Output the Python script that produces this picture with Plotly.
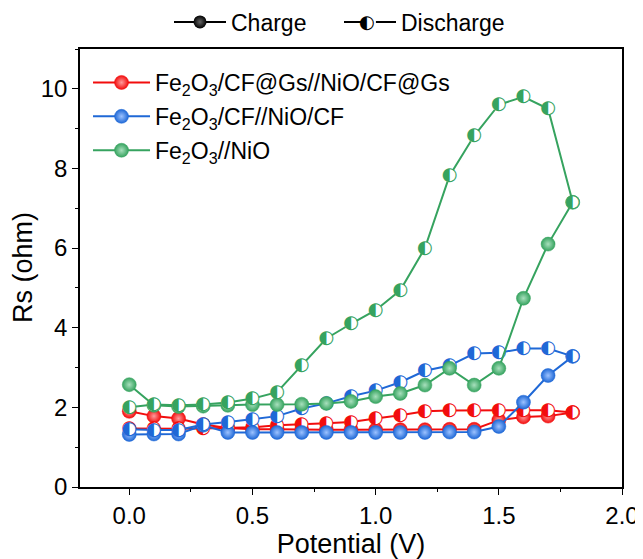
import plotly.graph_objects as go

# ---------------- data ----------------
potential = [0.0, 0.1, 0.2, 0.3, 0.4, 0.5, 0.6, 0.7, 0.8, 0.9,
             1.0, 1.1, 1.2, 1.3, 1.4, 1.5, 1.6, 1.7, 1.8]
potential_back = potential[::-1]  # discharge runs 1.8 -> 0.0

red_charge = [1.90, 1.78, 1.72, 1.57, 1.48, 1.45, 1.45, 1.44, 1.44, 1.44,
              1.44, 1.44, 1.44, 1.45, 1.45, 1.68, 1.76, 1.78, 1.87]
red_discharge = [1.87, 1.93, 1.93, 1.93, 1.93, 1.92, 1.90, 1.80, 1.72, 1.63,
                 1.60, 1.58, 1.55, 1.50, 1.48, 1.47, 1.46, 1.46, 1.47]

blue_charge = [1.32, 1.33, 1.33, 1.55, 1.37, 1.37, 1.37, 1.37, 1.37, 1.37,
               1.37, 1.37, 1.37, 1.38, 1.38, 1.52, 2.13, 2.80, 3.28]
blue_discharge = [3.28, 3.48, 3.48, 3.37, 3.35, 3.05, 2.92, 2.63, 2.42, 2.28,
                  2.10, 1.97, 1.78, 1.70, 1.63, 1.57, 1.43, 1.43, 1.45]

green_charge = [2.57, 2.05, 2.02, 2.03, 2.05, 2.07, 2.07, 2.08, 2.10, 2.15,
                2.27, 2.35, 2.56, 2.98, 2.56, 2.98, 4.74, 6.10, 7.15]
green_discharge = [7.15, 9.50, 9.80, 9.60, 8.82, 7.82, 6.00, 4.94, 4.44, 4.10,
                   3.73, 3.06, 2.38, 2.22, 2.12, 2.07, 2.05, 2.07, 2.00]

series_names = ["Fe<sub>2</sub>O<sub>3</sub>/CF@Gs//NiO/CF@Gs",
                "Fe<sub>2</sub>O<sub>3</sub>/CF//NiO/CF",
                "Fe<sub>2</sub>O<sub>3</sub>//NiO"]
series_colors = ["#f20d0d", "#1f68d6", "#36a35f"]
series_light = ["#ff9c9c", "#9cc2ff", "#a8e0bd"]
charge_data = [red_charge, blue_charge, green_charge]
discharge_data = [red_discharge, blue_discharge, green_discharge]

x_ticks = [0.0, 0.5, 1.0, 1.5, 2.0]
y_ticks = [0, 2, 4, 6, 8, 10]

HALF = "\u25D0"
FONT = "Liberation Sans, Arial, sans-serif"

# the page body has an 8 px default margin, so the figure is 8 px smaller
W, H = 635, 551
ML, MR, MT, MB = 72, 21, 41, 72

fig = go.Figure()

for i, (name, col, light, ch, dis) in enumerate(
        zip(series_names, series_colors, series_light, charge_data, discharge_data)):
    # charge: filled balls
    fig.add_trace(go.Scatter(
        x=potential, y=ch, mode="lines+markers", name=name,
        legend="legend2", legendgroup=f"g{i}",
        line=dict(color=col, width=2),
        marker=dict(symbol="circle", size=14, color=col,
                    gradient=dict(type="radial", color=light),
                    line=dict(color=col, width=0.5)),
    ))
    # discharge: half-filled circles
    fig.add_trace(go.Scatter(
        x=potential_back, y=dis, mode="lines+markers+text", showlegend=False,
        text=[HALF] * len(dis), textposition="middle center",
        textfont=dict(family="DejaVu Sans", size=18, color=col),
        line=dict(color=col, width=2),
        marker=dict(symbol="circle", size=13, color="white",
                    line=dict(color=col, width=0)),
        hoverinfo="x+y",
    ))

# top legend entries (legend-only traces)
fig.add_trace(go.Scatter(
    x=[None], y=[None], mode="lines+markers", name="Charge",
    legend="legend", line=dict(color="black", width=2),
    marker=dict(symbol="circle", size=13, color="black",
                gradient=dict(type="radial", color="#666666")),
))
fig.add_trace(go.Scatter(
    x=[None], y=[None], mode="lines+markers", name="Discharge",
    legend="legend3", line=dict(color="black", width=2),
    marker=dict(symbol="circle", size=12, color="white",
                line=dict(color="white", width=0)),
))

# top legend positions (pixels within the figure)
charge_leg_x = 161
discharge_leg_x = 331
leg_center_y = 14
icon_offset = 28  # legend symbol centre relative to legend left edge
ytitle_center_x = 15  # y-axis title centre (pixels within the figure)

axis_common = dict(
    showline=True, linecolor="black", linewidth=1.5, mirror=True,
    ticks="outside", ticklen=6, tickwidth=1.2, tickcolor="black",
    showgrid=False, zeroline=False, automargin=False,
    tickfont=dict(family=FONT, size=24, color="black"),
)

fig.update_xaxes(
    range=[-0.2, 2.0], tickvals=x_ticks, ticktext=[f"{v:.1f}" for v in x_ticks],
    minor=dict(dtick=0.25, ticks="outside", ticklen=3, tickcolor="black", tickwidth=1),
    title=dict(text="Potential (V)", font=dict(family=FONT, size=27, color="black"),
               standoff=0),
    **axis_common,
)
fig.update_yaxes(
    range=[0, 11], tickvals=y_ticks, ticktext=[str(v) for v in y_ticks],
    minor=dict(dtick=1, ticks="outside", ticklen=3, tickcolor="black", tickwidth=1),
    **axis_common,
)

leg_font = dict(family=FONT, size=23, color="black")
pw = W - ML - MR
ph = H - MT - MB

# y-axis title as a rotated annotation
fig.add_annotation(
    text="Rs (ohm)", showarrow=False, xref="paper", yref="paper",
    x=(ytitle_center_x - ML) / pw, y=0.5, textangle=-90,
    xanchor="center", yanchor="middle",
    font=dict(family=FONT, size=27, color="black"),
)

# half-filled glyph on top of the Discharge legend symbol
fig.add_annotation(
    text=HALF, showarrow=False, xref="paper", yref="paper",
    x=(discharge_leg_x + icon_offset - ML) / pw,
    y=1 + (MT - leg_center_y) / ph,
    xanchor="center", yanchor="middle",
    font=dict(family="DejaVu Sans", size=18, color="black"),
)

fig.update_layout(
    width=W, height=H,
    margin=dict(l=ML, r=MR, t=MT, b=MB, autoexpand=False),
    plot_bgcolor="white", paper_bgcolor="white",
    font=dict(family=FONT, size=23, color="black"),
    legend=dict(x=charge_leg_x / W, xanchor="left", xref="container",
                y=1 - leg_center_y / H, yanchor="middle", yref="container",
                font=leg_font, bgcolor="rgba(0,0,0,0)", itemwidth=52),
    legend3=dict(x=discharge_leg_x / W, xanchor="left", xref="container",
                 y=1 - leg_center_y / H, yanchor="middle", yref="container",
                 font=leg_font, bgcolor="rgba(0,0,0,0)", itemwidth=52),
    legend2=dict(x=0.0148, xanchor="left", y=0.9726, yanchor="top",
                 font=leg_font, bgcolor="rgba(0,0,0,0)", tracegroupgap=1,
                 itemwidth=57),
)

fig.write_html("out.html", config={"displayModeBar": False})
